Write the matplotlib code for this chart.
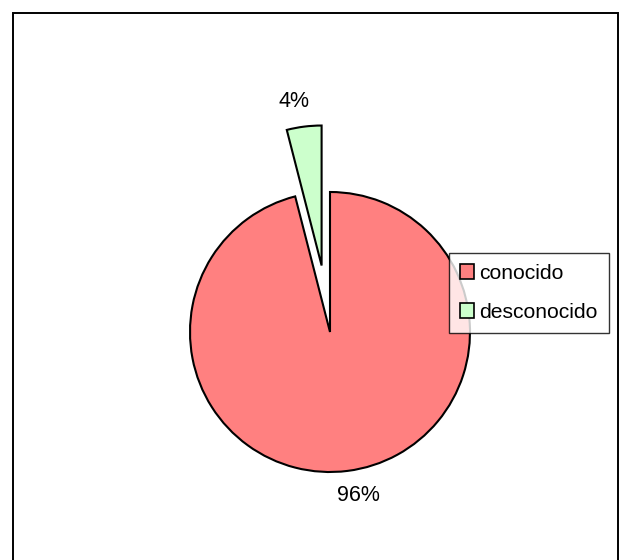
import matplotlib.pyplot as plt
from matplotlib.patches import Rectangle

plt.rcParams['font.family'] = ['Liberation Sans', 'DejaVu Sans']

etiquetas = ['conocido', 'desconocido']
valores = [96, 4]
colores = ['#FF8080', '#CCFFCC']

fig = plt.figure(figsize=(6.22, 5.6), dpi=100)
ax = fig.add_axes([0, 0, 1, 1])

cunas, textos, pct = ax.pie(
    valores, colors=colores, startangle=90, counterclock=False,
    radius=140, center=(330, 228), explode=[0, 67],
    autopct='%1.0f%%', pctdistance=1.18,
    wedgeprops=dict(edgecolor='black', linewidth=1.5),
    textprops=dict(fontsize=15.5, color='black'),
)

# las etiquetas de porcentaje van algo más giradas
for t, dx in zip(pct, [8, -7]):
    x, y = t.get_position()
    t.set_position((x + dx, y))

# pie() fija sus propios límites; se ponen en píxeles después
ax.set_xlim(0, 622)
ax.set_ylim(0, 560)
ax.set_aspect('equal')
ax.axis('off')

# marco exterior del gráfico
ax.add_patch(Rectangle((13, -10), 605, 557, fill=False, edgecolor='black', linewidth=1.4))

leg = ax.legend(cunas, etiquetas, loc='upper left',
                bbox_to_anchor=(449, 560 - 253), bbox_transform=ax.transData,
                fontsize=15.2, frameon=True, fancybox=False,
                handlelength=0.7, handleheight=0.7, handletextpad=0.25,
                labelspacing=0.98, borderpad=0.5, borderaxespad=0)
leg.get_frame().set_edgecolor('black')
leg.get_frame().set_linewidth(1.0)
for h in leg.legend_handles:
    h.set_linewidth(1.2)

fig.savefig('out.png', dpi=100)
